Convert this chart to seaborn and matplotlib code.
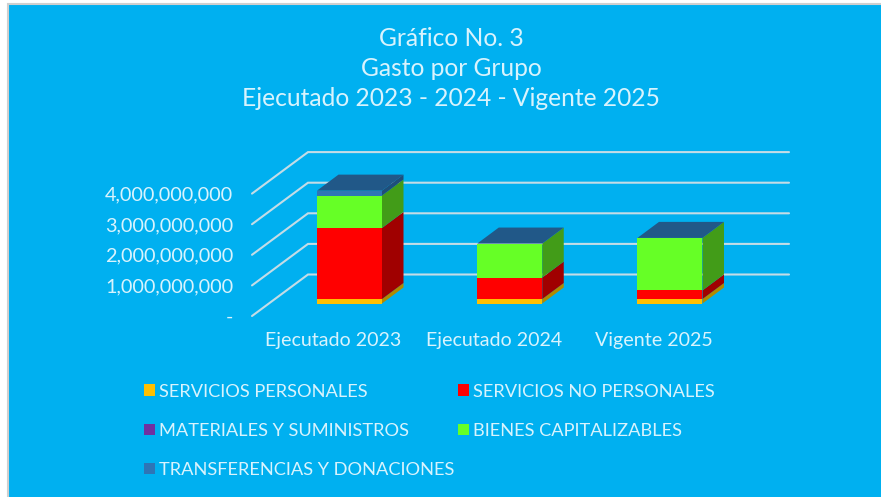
import numpy as np
import matplotlib
matplotlib.use("Agg")
import matplotlib.pyplot as plt
from matplotlib.patches import Polygon, Rectangle
import seaborn as sns

categorias = ["Ejecutado 2023", "Ejecutado 2024", "Vigente 2025"]
servicios_personales = [147000000, 147000000, 147000000]
servicios_no_personales = [2320000000, 700000000, 280000000]
materiales = [2000000, 2000000, 2000000]
bienes_capitalizables = [1060000000, 1110000000, 1715000000]
transferencias = [160000000, 0, 0]
series_nombres = ["SERVICIOS PERSONALES", "SERVICIOS NO PERSONALES", "MATERIALES Y SUMINISTROS",
                  "BIENES CAPITALIZABLES", "TRANSFERENCIAS Y DONACIONES"]
ticks = [0, 1000000000, 2000000000, 3000000000, 4000000000]
tick_labels = ["-", "1,000,000,000", "2,000,000,000", "3,000,000,000", "4,000,000,000"]
titulo = "Gráfico No. 3\nGasto por Grupo\nEjecutado 2023 - 2024 - Vigente 2025"

colores = ["#FFC000", "#FF0000", "#7030A0", "#66FF26", "#2E75B6"]
colores_lado = ["#B08A00", "#A00000", "#4F2272", "#429C18", "#1F4E79"]
color_tapa = "#215888"
azul = "#00B0F0"
texto = "#D8F3FD"

W, H = 881, 497
sns.set_theme(style="white")
plt.rcParams["font.family"] = ["Lato", "DejaVu Sans"]

fig = plt.figure(figsize=(W / 100, H / 100), dpi=100, facecolor="white")
fig.add_artist(Rectangle((8 / W, -0.02), 1, 1.02 - 4.5 / H, transform=fig.transFigure,
                         facecolor=azul, edgecolor="#CFCFCF", linewidth=1.5, zorder=-5))
ax = fig.add_axes([0, 0, 1, 1])

# escala: x=0 en 349.5 px, x=1 en 509.8 px; y=0 en 303.5 px, 1e9 son 30.6 px
px_x = 160.25
px_y = 30.6 / 1e9
ancho = 65 / px_x

bottom = np.zeros(3)
barras = []
for nombre, vals, c in zip(series_nombres,
                           [servicios_personales, servicios_no_personales, materiales,
                            bienes_capitalizables, transferencias], colores):
    antes = len(ax.patches)
    sns.barplot(x=categorias, y=vals, bottom=bottom, color=c, saturation=1, width=ancho,
                linewidth=0, label=nombre, legend=False, ax=ax, zorder=3)
    barras.append(ax.patches[antes:])
    bottom = bottom + np.array(vals)

ax.set_xlim(-349.5 / px_x, (W - 349.5) / px_x)
ax.set_ylim(-(H - 303.5) / px_y, 303.5 / px_y)
ax.set_axis_off()

# profundidad de las barras
dx = 21.5 / px_x
dy = 16 / px_y
for grupo, lado in zip(barras, colores_lado):
    for p in grupo:
        x0, y0, h = p.get_x(), p.get_y(), p.get_height()
        x1 = x0 + p.get_width()
        if h <= 0:
            continue
        ax.add_patch(Polygon([(x1, y0), (x1 + dx, y0 + dy), (x1 + dx, y0 + h + dy), (x1, y0 + h)],
                             closed=True, facecolor=lado, edgecolor="none", zorder=2.5))
for i in range(3):
    x0 = i - ancho / 2
    x1 = i + ancho / 2
    ax.add_patch(Polygon([(x0, bottom[i]), (x1, bottom[i]), (x1 + dx, bottom[i] + dy), (x0 + dx, bottom[i] + dy)],
                         closed=True, facecolor=color_tapa, edgecolor="none", zorder=2.6))

# pared de fondo con sus lineas
g_front_x = (252 - 349.5) / px_x
g_back_x = (308 - 349.5) / px_x
g_end_x = (789 - 349.5) / px_x
g_front_y = -12.5 / px_y
g_back_y = 29 / px_y
for t, lab in zip(ticks, tick_labels):
    ax.plot([g_front_x, g_back_x, g_end_x], [t + g_front_y, t + g_back_y, t + g_back_y],
            color="#C4DCE6", lw=1.5, zorder=1, solid_joinstyle="miter")
    ax.text((233 - 349.5) / px_x, t + g_front_y, lab, ha="right", va="center_baseline",
            color=texto, fontsize=14.3)

for i, cat in enumerate(categorias):
    ax.text(i - 16 / px_x, -35.5 / px_y, cat, ha="center", va="center_baseline", color=texto, fontsize=14.1)

fig.text(451 / W, 1 - 68.5 / H, titulo, ha="center", va="center", color=texto,
         fontsize=17.7, linespacing=1.37)

orden = [0, 2, 4, 1, 3]
handles = [barras[i][0] for i in orden]
leg = fig.legend(handles, [series_nombres[i] for i in orden], ncols=2, frameon=False,
                 loc="upper left", bbox_to_anchor=(129 / W, 1 - 369 / H),
                 fontsize=13.15, labelcolor=texto, handlelength=0.6, handleheight=0.6,
                 handletextpad=0.22, labelspacing=1.27, columnspacing=0.2, borderpad=0.3)

fig.savefig("out.png", dpi=100, facecolor=fig.get_facecolor())
